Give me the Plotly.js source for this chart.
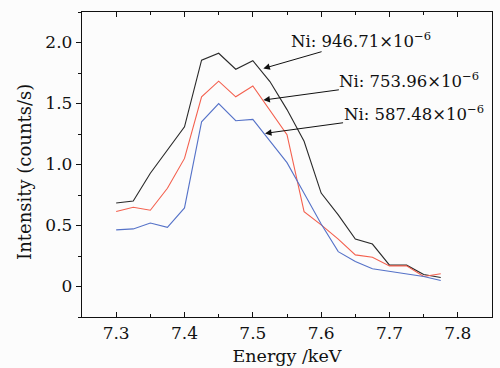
<!DOCTYPE html>
<html>
<head>
<meta charset="utf-8">
<script src="https://cdn.plot.ly/plotly-3.0.1.min.js"></script>
<style>html,body{margin:0;padding:0;background:#fcfcfc;}#chart{width:500px;height:368px;}</style>
</head>
<body>
<div id="chart"></div>
<script>
const energy = [7.300, 7.325, 7.350, 7.375, 7.400, 7.425, 7.450, 7.475, 7.500, 7.525,
                7.550, 7.575, 7.600, 7.625, 7.650, 7.675, 7.700, 7.725, 7.750, 7.775];
const ni946 = [0.685, 0.701, 0.928, 1.119, 1.309, 1.855, 1.912, 1.781, 1.851, 1.680,
               1.450, 1.190, 0.766, 0.587, 0.389, 0.348, 0.175, 0.175, 0.099, 0.074];
const ni754 = [0.614, 0.650, 0.625, 0.805, 1.050, 1.555, 1.683, 1.555, 1.643, 1.440,
               1.245, 0.614, 0.505, 0.388, 0.259, 0.240, 0.169, 0.169, 0.082, 0.104];
const ni587 = [0.464, 0.472, 0.520, 0.485, 0.644, 1.350, 1.500, 1.359, 1.370, 1.195,
               1.015, 0.764, 0.512, 0.286, 0.205, 0.145, 0.123, 0.101, 0.082, 0.049];
const seriesNames = ["Ni: 946.71×10<sup>−6</sup>", "Ni: 753.96×10<sup>−6</sup>", "Ni: 587.48×10<sup>−6</sup>"];
const seriesColors = ["#2a2a2a", "#f4604e", "#5572c8"];
// label centres and arrow heads (data coords)
const labelX = [7.6589, 7.7291, 7.7352];
const labelY = [2.019, 1.691, 1.421];
const arrowHeadX = [7.5154, 7.5154, 7.5178];
const arrowHeadY = [1.787, 1.528, 1.255];

const font = "DejaVu Serif, Liberation Serif, serif";
const ys = [ni946, ni754, ni587];
const traces = ys.map((y, i) => ({
  x: energy, y: y, type: "scatter", mode: "lines",
  line: {color: seriesColors[i], width: 1.1},
  showlegend: false, hoverinfo: "skip"
}));

const annotations = [];
for (let i = 0; i < 3; i++) {
  annotations.push({
    x: arrowHeadX[i], y: arrowHeadY[i], ax: labelX[i], ay: labelY[i],
    xref: "x", yref: "y", axref: "x", ayref: "y",
    text: seriesNames[i], font: {family: font, size: 16.5, color: "#111"},
    showarrow: true, arrowhead: 2, arrowsize: 1.3, arrowwidth: 1,
    arrowcolor: "#111", standoff: 0, borderpad: 0
  });
}
annotations.push({
  xref: "paper", yref: "y", x: -0.139, y: 0.939,
  xanchor: "center", yanchor: "middle", showarrow: false, textangle: -90,
  text: "Intensity (counts/s)", font: {family: font, size: 18, color: "#111"}
});

const layout = {
  width: 500, height: 368,
  margin: {l: 82, r: 8, t: 12, b: 51},
  paper_bgcolor: "#fcfcfc", plot_bgcolor: "#fcfcfc",
  font: {family: font, size: 17, color: "#111"},
  xaxis: {
    range: [7.25, 7.85], dtick: 0.1, tick0: 7.3,
    ticks: "inside", ticklen: 5, tickwidth: 1, tickcolor: "#111",
    minor: {dtick: 0.05, ticks: "inside", ticklen: 3, tickcolor: "#111"},
    showline: true, linecolor: "#111", linewidth: 1.2, mirror: "allticks",
    showgrid: false, zeroline: false, tickformat: ".1f",
    title: {text: "Energy /keV", font: {family: font, size: 17.5}, standoff: 8}
  },
  yaxis: {
    range: [-0.25, 2.25], dtick: 0.5, tick0: 0,
    ticks: "outside", ticklen: 5, tickwidth: 1, tickcolor: "#111",
    minor: {dtick: 0.25, ticks: "outside", ticklen: 3, tickcolor: "#111"},
    showline: true, linecolor: "#111", linewidth: 1.2, mirror: true,
    showgrid: false, zeroline: false,
    tickvals: [0, 0.5, 1.0, 1.5, 2.0], ticktext: ["0", "0.5", "1.0", "1.5", "2.0"]
  },
  annotations: annotations
};

Plotly.newPlot("chart", traces, layout, {staticPlot: true, displayModeBar: false});
</script>
</body>
</html>
